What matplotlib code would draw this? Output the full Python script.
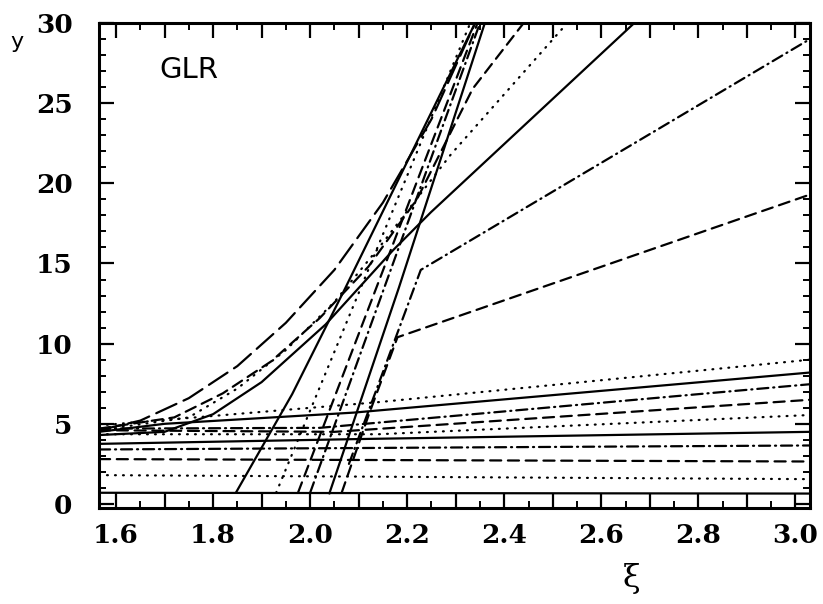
import matplotlib
matplotlib.use("Agg")
import matplotlib.pyplot as plt
from matplotlib.ticker import MultipleLocator, FuncFormatter

# ---------------- tick labels ----------------
x_tick_values = [1.6, 1.8, 2.0, 2.2, 2.4, 2.6, 2.8, 3.0]
x_tick_labels = ["1.6", "1.8", "2.0", "2.2", "2.4", "2.6", "2.8", "3.0"]
y_tick_values = [0, 5, 10, 15, 20, 25, 30]
y_tick_labels = ["0", "5", "10", "15", "20", "25", "30"]

# ---------------- data ----------------
# nearly flat family at the bottom
flat1_x = [1.565, 3.03];             flat1_y = [0.70, 0.65]   # solid
flat2_x = [1.565, 3.03];             flat2_y = [1.80, 1.55]   # dotted
flat3_x = [1.565, 3.03];             flat3_y = [2.80, 2.65]   # dashed
flat4_x = [1.565, 3.03];             flat4_y = [3.40, 3.65]   # dash-dot
flat5_x = [1.565, 2.10, 3.03];       flat5_y = [3.75, 4.05, 4.50]   # solid
flat6_x = [1.565, 2.14, 3.03];       flat6_y = [4.35, 4.35, 5.55]   # dotted
flat7_x = [1.565, 2.05, 3.03];       flat7_y = [4.60, 4.50, 6.50]   # dashed
flat8_x = [1.565, 2.02, 3.03];       flat8_y = [4.70, 4.75, 7.47]   # dash-dot
flat9_x = [1.565, 1.70, 2.09, 3.03]; flat9_y = [4.50, 5.00, 5.70, 8.20]  # solid
flat10_x = [1.565, 2.14, 3.03];      flat10_y = [4.90, 6.35, 9.00]  # dotted

# fan lines leaving the critical band
fan1_x = [2.065, 2.12, 2.18, 3.03];  fan1_y = [0.7, 5.5, 10.4, 19.3]      # dashed
fan2_x = [2.08, 2.228, 3.03];        fan2_y = [2.5, 14.6, 29.0]           # dash-dot
fan3_x = [1.565, 1.70, 1.80, 1.90, 2.032, 2.17, 2.249, 2.668]
fan3_y = [4.3, 4.5, 5.6, 7.6, 11.2, 15.8, 18.2, 30.0]                    # solid
fan4_x = [1.565, 1.75, 1.85, 1.95, 2.05, 2.15, 2.29, 2.53]
fan4_y = [4.6, 5.4, 7.2, 9.6, 12.6, 16.3, 21.8, 30.0]                    # dotted
fan5_x = [1.565, 1.72, 1.82, 1.92, 2.02, 2.12, 2.22, 2.335, 2.44]
fan5_y = [4.7, 5.4, 6.9, 8.9, 11.6, 14.8, 19.0, 25.9, 30.0]              # dashed

# outer envelope (critical line)
env_x = [1.565, 1.65, 1.75, 1.85, 1.95, 2.05, 2.15, 2.25, 2.34]
env_y = [4.6, 5.2, 6.6, 8.6, 11.3, 14.6, 18.8, 24.0, 30.0]

# steep lines rising from the bottom
steep1_x = [1.847, 1.963, 2.073, 2.34]; steep1_y = [0.7, 6.85, 13.5, 30.0]   # solid
steep2_x = [1.93, 2.33];                steep2_y = [0.7, 30.0]              # dotted
steep3_x = [1.975, 2.345];              steep3_y = [0.7, 30.0]              # dashed
steep4_x = [2.039, 2.183, 2.36];        steep4_y = [0.6, 13.5, 30.0]        # solid
steep5_x = [2.0, 2.35];                 steep5_y = [0.7, 30.0]              # dash-dot

STY = {
    "solid": "-",
    "dotted": (0, (0.4, 3.2)),
    "dashed": (0, (5.0, 3.0)),
    "dashdot": (0, (5.0, 2.2, 0.5, 2.2)),
    "longdash": (0, (10.0, 3.5)),
}

curves = [
    (flat1_x, flat1_y, "solid"), (flat2_x, flat2_y, "dotted"),
    (flat3_x, flat3_y, "dashed"), (flat4_x, flat4_y, "dashdot"),
    (flat5_x, flat5_y, "solid"), (flat6_x, flat6_y, "dotted"),
    (flat7_x, flat7_y, "dashed"), (flat8_x, flat8_y, "dashdot"),
    (flat9_x, flat9_y, "solid"), (flat10_x, flat10_y, "dotted"),
    (fan1_x, fan1_y, "dashed"), (fan2_x, fan2_y, "dashdot"),
    (fan3_x, fan3_y, "solid"), (fan4_x, fan4_y, "dotted"),
    (fan5_x, fan5_y, "dashed"), (env_x, env_y, "longdash"),
    (steep1_x, steep1_y, "solid"), (steep2_x, steep2_y, "dotted"),
    (steep3_x, steep3_y, "dashed"), (steep4_x, steep4_y, "solid"),
    (steep5_x, steep5_y, "dashdot"),
]

# ---------------- figure ----------------
W, H = 823, 604
fig = plt.figure(figsize=(W / 100, H / 100), dpi=100)
ax = fig.add_axes([99 / W, (H - 508) / H, (810 - 99) / W, (508 - 23) / H])

for xs, ys, st in curves:
    ax.plot(xs, ys, color="black", lw=1.6, linestyle=STY[st],
            dash_capstyle="round", solid_capstyle="butt", clip_on=True)

ax.set_xlim(1.565, 3.03)
ax.set_ylim(-0.25, 30)

for s in ax.spines.values():
    s.set_linewidth(2.2)
    s.set_color("black")

label_map = {round(v, 2): l for v, l in zip(x_tick_values, x_tick_labels)}
ax.xaxis.set_major_locator(MultipleLocator(0.1))
ax.xaxis.set_minor_locator(MultipleLocator(0.05))
ax.xaxis.set_major_formatter(FuncFormatter(lambda v, p: label_map.get(round(v, 2), "")))
ax.set_yticks(y_tick_values)
ax.set_yticklabels(y_tick_labels)
ax.yaxis.set_minor_locator(MultipleLocator(1))

ax.tick_params(which="both", direction="in", top=True, right=True, color="black")
ax.tick_params(which="major", length=11, width=1.6)
ax.tick_params(which="minor", length=5, width=1.4)
ax.tick_params(axis="y", which="major", labelsize=19, pad=19)
ax.tick_params(axis="x", which="major", labelsize=19, pad=11)
for lab in ax.get_xticklabels() + ax.get_yticklabels():
    lab.set_fontfamily("DejaVu Serif")
    lab.set_fontweight("bold")

ax.text(1.69, 26.6, "GLR", fontsize=21, family="DejaVu Sans", va="baseline", ha="left")
fig.text(17 / W, 1 - 42 / H, "y", fontsize=16, family="DejaVu Sans", ha="center", va="center")
fig.text(632 / W, 1 - 578 / H, "ξ", fontsize=23, family="DejaVu Serif", ha="center", va="center")

fig.savefig("out.png", dpi=100, facecolor="white")
